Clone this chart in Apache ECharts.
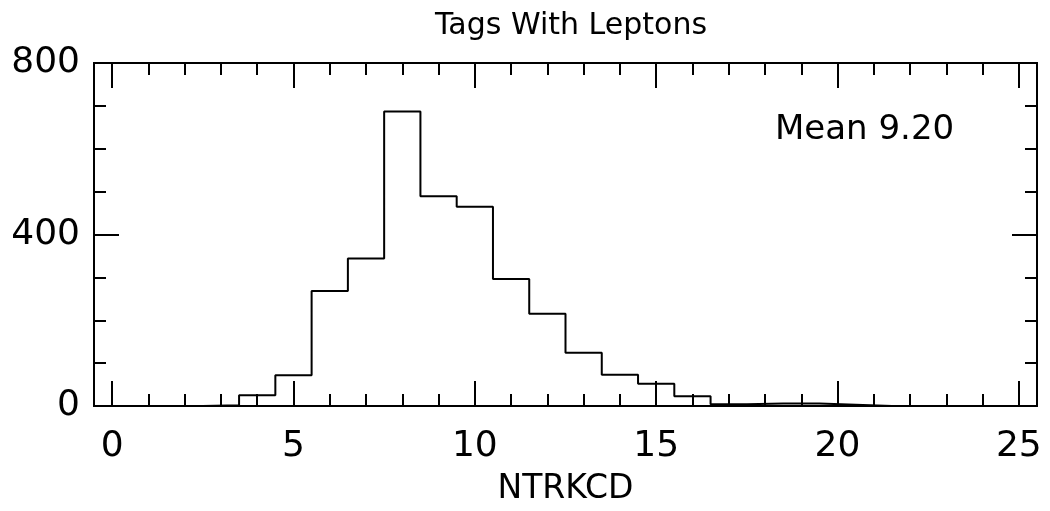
<!DOCTYPE html>
<html>
<head>
<meta charset="utf-8">
<title>Tags With Leptons</title>
<script src="https://cdn.jsdelivr.net/npm/echarts@6/dist/echarts.min.js"></script>
<style>
  html, body { margin: 0; padding: 0; background: #fff; }
  #chart { width: 1050px; height: 511px; }
</style>
</head>
<body>
<div id="chart"></div>
<script>
// Histogram of NTRKCD for tags with leptons: one bin per integer value.
const ntrkcd = [0, 1, 2, 3, 4, 5, 6, 7, 8, 9, 10, 11, 12, 13, 14, 15, 16, 17, 18, 19, 20, 21, 22, 23, 24, 25];
const counts = [0, 0, 0, 2, 25, 72, 268, 344, 687, 489, 465, 296, 215, 124, 73, 52, 23, 4, 6, 6, 3, 0, 0, 0, 0, 0];

const xMajorTicks = [0, 5, 10, 15, 20, 25];
const xMinorTicks = ntrkcd.filter(v => v % 5 !== 0);
const yTickLabels = [0, 400, 800];

const titleText = 'Tags With Leptons';
const xTitle = 'NTRKCD';
const meanText = 'Mean 9.20';

// Step outline: each bin runs from (value - 0.5) to (value + 0.5).
const outline = ntrkcd.map((v, i) => [v - 0.5, counts[i]]);
outline.push([ntrkcd[ntrkcd.length - 1] + 0.5, counts[counts.length - 1]]);

const font = '"DejaVu Sans", sans-serif';
const ink = '#000';
const frame = { show: true, onZero: false, lineStyle: { color: ink, width: 2 } };

function xAxisDef(position, ticks, len, withLabels) {
  return {
    type: 'value', position: position, min: -0.5, max: 25.5,
    axisLine: frame,
    splitLine: { show: false },
    axisTick: { show: true, inside: true, length: len, customValues: ticks,
                lineStyle: { color: ink, width: 2 } },
    axisLabel: withLabels
      ? { show: true, customValues: ticks, color: ink, fontFamily: font, fontSize: 36, margin: 23 }
      : { show: false }
  };
}

function yAxisDef(position, withLabels) {
  return {
    type: 'value', position: position, min: 0, max: 800, interval: 400,
    axisLine: frame,
    splitLine: { show: false },
    axisTick: { show: true, inside: true, length: 25, lineStyle: { color: ink, width: 2 } },
    minorTick: { show: true, splitNumber: 4, length: 12, lineStyle: { color: ink, width: 2 } },
    minorSplitLine: { show: false },
    axisLabel: withLabels
      ? { show: true, customValues: yTickLabels, color: ink, fontFamily: font, fontSize: 36, margin: 14 }
      : { show: false }
  };
}

const xBottom = xAxisDef('bottom', xMajorTicks, 25, true);
xBottom.name = xTitle;
xBottom.nameLocation = 'middle';
xBottom.nameGap = 67;
xBottom.nameTextStyle = { color: ink, fontFamily: font, fontSize: 33 };

const chart = echarts.init(document.getElementById('chart'), null, { renderer: 'canvas' });
chart.setOption({
  backgroundColor: '#fff',
  animation: false,
  title: {
    text: titleText,
    left: 566, top: 6, textAlign: 'center',
    textStyle: { color: ink, fontFamily: font, fontSize: 30, fontWeight: 'normal' }
  },
  grid: { left: 94, right: 13, top: 63, bottom: 103, containLabel: false },
  xAxis: [
    xBottom,
    xAxisDef('bottom', xMinorTicks, 12, false),
    xAxisDef('top', xMajorTicks, 25, false),
    xAxisDef('top', xMinorTicks, 12, false)
  ],
  yAxis: [yAxisDef('left', true), yAxisDef('right', false)],
  graphic: [{
    type: 'text', left: 775, top: 113,
    style: { text: meanText, fill: ink, font: '34px ' + font }
  }],
  series: [{
    type: 'line',
    xAxisIndex: 0, yAxisIndex: 0,
    step: 'end',
    data: outline,
    showSymbol: false,
    lineStyle: { color: ink, width: 2 },
    clip: false
  }]
});
</script>
</body>
</html>
